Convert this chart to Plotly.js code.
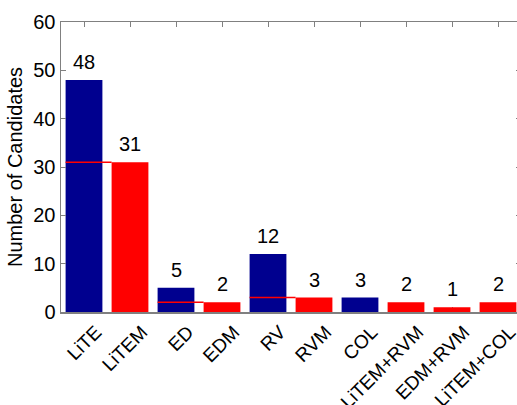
<!DOCTYPE html>
<html>
<head>
<meta charset="utf-8">
<script src="https://cdn.plot.ly/plotly-3.0.1.min.js"></script>
<style>
html,body{margin:0;padding:0;overflow:hidden;background:#fff;}
#chart{width:530px;height:405px;}
</style>
</head>
<body>
<div id="chart"></div>
<script>
// Data
var categories = ["LiTE","LiTEM","ED","EDM","RV","RVM","COL","LiTEM+RVM","EDM+RVM","LiTEM+COL"];
var counts = [48, 31, 5, 2, 12, 3, 3, 2, 1, 2];
var barColors = ["blue","red","blue","red","blue","red","blue","red","red","red"];
// reference lines drawn over blue bars (category index, value)
var refLineIndex = [1, 3, 5];
var refLineValue = [31, 2, 3];

var colorMap = {blue: "#00008F", red: "#FF0000"};
var positions = categories.map(function(c, i){ return i + 1; });

var traces = [{
  type: "bar",
  x: positions,
  y: counts,
  width: 0.8,
  marker: {
    color: barColors.map(function(c){ return colorMap[c]; }),
    line: {width: 0}
  },
  hoverinfo: "none"
}];

refLineIndex.forEach(function(idx, k){
  traces.push({
    type: "scatter",
    mode: "lines",
    x: [idx - 0.4, idx + 0.6],
    y: [refLineValue[k], refLineValue[k]],
    line: {color: "#FF0000", width: 1.5},
    hoverinfo: "none"
  });
});

var FONT = "Liberation Sans, Arial, sans-serif";
var annotations = counts.map(function(v, i){
  return {
    x: positions[i], y: v, xref: "x", yref: "y",
    text: String(v), showarrow: false,
    yanchor: "bottom", yshift: 5,
    font: {family: FONT, size: 20, color: "#000"}
  };
});

var layout = {
  width: 530, height: 405,
  margin: {l: 61, r: 9, t: 22, b: 93, pad: 0},
  paper_bgcolor: "#fff", plot_bgcolor: "#fff",
  showlegend: false,
  font: {family: FONT, size: 20, color: "#000"},
  xaxis: {
    range: [0.5, 10.5],
    tickmode: "array", tickvals: positions, ticktext: categories,
    tickangle: -45,
    ticklabelshift: 12, ticklabelstandoff: 0,
    ticks: "inside", ticklen: 5, tickcolor: "#808080",
    showline: true, linecolor: "#808080", linewidth: 1.5,
    mirror: "ticks", showgrid: false, zeroline: false,
    layer: "below traces",
    tickfont: {size: 19, color: "#000"}
  },
  yaxis: {
    range: [0, 60], dtick: 10,
    ticks: "inside", ticklen: 5, tickcolor: "#808080",
    showline: true, linecolor: "#808080", linewidth: 1.5,
    mirror: "ticks", showgrid: false, zeroline: false,
    tickfont: {size: 20, color: "#000"},
    title: {text: "Number of Candidates", font: {size: 20, color: "#000"}, standoff: 5}
  },
  annotations: annotations
};

Plotly.newPlot("chart", traces, layout, {displayModeBar: false, staticPlot: true});
</script>
</body>
</html>
